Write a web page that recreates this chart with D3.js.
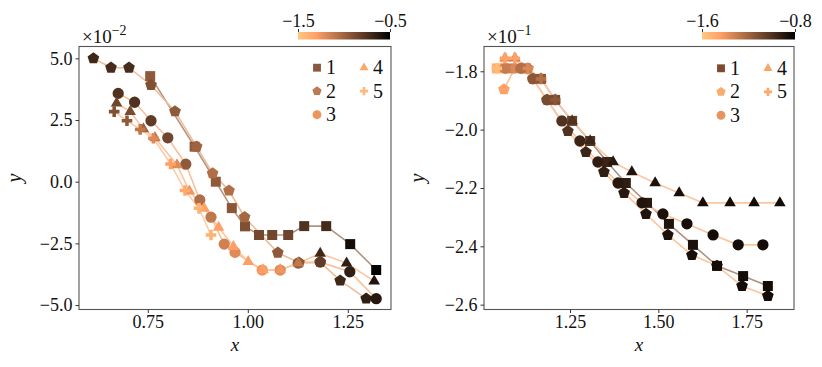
<!DOCTYPE html>
<html><head><meta charset="utf-8">
<script src="https://cdn.jsdelivr.net/npm/d3@7"></script>
<style>
body{margin:0;background:#fff}
text{font-family:"Liberation Serif","DejaVu Serif",serif;fill:#111}
</style>
</head><body>
<svg id="c" width="822" height="367"></svg>
<script>
// ---------------- DATA ----------------
const legendLabels = ["1","2","3","4","5"];
const markerTypes = ["square","pentagon","circle","triangle","plus"];

// Left panel (y in units of 1e-2), each point: [x, y, colour value]
const leftS1 = [[0.756,4.28,-0.95],[0.867,1.42,-0.95],[0.920,0.00,-0.95],[0.960,-1.07,-0.93],[0.993,-1.81,-0.90],[1.028,-2.16,-0.86],[1.061,-2.16,-0.85],[1.101,-2.16,-0.84],[1.141,-1.80,-0.75],[1.196,-1.80,-0.72],[1.256,-2.53,-0.56],[1.321,-3.58,-0.50]];
const leftS2 = [[0.614,5.00,-0.70],[0.658,4.62,-0.72],[0.703,4.62,-0.72],[0.758,3.92,-0.90],[0.818,2.85,-0.95],[0.872,1.42,-1.00],[0.912,0.34,-1.05],[0.953,-0.36,-1.05],[0.992,-1.44,-1.02],[1.075,-2.88,-0.95],[1.128,-3.28,-0.90],[1.181,-3.26,-0.85],[1.231,-4.01,-0.70],[1.296,-4.74,-0.65]];
const leftS3 = [[0.676,3.58,-0.75],[0.717,3.22,-0.75],[0.758,2.47,-0.80],[0.800,1.78,-0.85],[0.845,0.71,-0.95],[0.880,-0.74,-1.05],[0.908,-1.44,-1.10],[0.941,-2.53,-1.15],[0.968,-2.86,-1.20],[1.036,-3.58,-1.25],[1.081,-3.58,-1.20],[1.126,-3.30,-0.95],[1.181,-3.26,-0.80],[1.255,-3.65,-0.65],[1.321,-4.74,-0.62]];
const leftS4 = [[0.672,3.18,-0.85],[0.706,2.84,-0.88],[0.739,2.14,-1.00],[0.768,1.78,-1.10],[0.823,0.68,-1.20],[0.854,-0.38,-1.25],[0.891,-1.08,-1.30],[0.927,-1.85,-1.30],[0.964,-2.63,-1.30],[1.001,-3.24,-1.30],[1.038,-3.58,-1.30],[1.081,-3.58,-1.25],[1.126,-3.30,-1.10],[1.181,-2.91,-0.70],[1.247,-3.30,-0.65],[1.316,-4.03,-0.60]];
const leftS5 = [[0.666,2.84,-0.90],[0.698,2.47,-0.95],[0.731,2.12,-1.10],[0.764,1.76,-1.20],[0.807,0.72,-1.30],[0.843,-0.36,-1.35],[0.878,-1.08,-1.40],[0.908,-2.16,-1.40]];

// Right panel (y in units of 1e-1)
const rightS1 = [[1.043,-1.79,-1.50],[1.083,-1.79,-1.30],[1.125,-1.79,-1.20],[1.168,-1.826,-1.15],[1.208,-1.898,-1.10],[1.256,-1.970,-1.05],[1.307,-2.039,-1.00],[1.355,-2.111,-0.95],[1.408,-2.183,-0.92],[1.468,-2.251,-0.90],[1.530,-2.323,-0.88],[1.598,-2.395,-0.87],[1.666,-2.467,-0.86],[1.740,-2.502,-0.85],[1.810,-2.536,-0.85]];
const rightS2 = [[1.063,-1.862,-1.45],[1.094,-1.79,-1.35],[1.131,-1.79,-1.30],[1.145,-1.826,-1.20],[1.185,-1.898,-1.10],[1.244,-2.005,-1.00],[1.295,-2.077,-0.95],[1.346,-2.145,-0.92],[1.403,-2.217,-0.90],[1.465,-2.289,-0.88],[1.527,-2.361,-0.87],[1.595,-2.430,-0.86],[1.666,-2.467,-0.85],[1.737,-2.536,-0.85],[1.810,-2.570,-0.85]];
const rightS3 = [[1.066,-1.79,-1.30],[1.111,-1.79,-1.25],[1.145,-1.826,-1.15],[1.185,-1.898,-1.10],[1.227,-1.970,-1.00],[1.278,-2.039,-0.95],[1.329,-2.111,-0.92],[1.386,-2.183,-0.90],[1.454,-2.251,-0.88],[1.513,-2.289,-0.87],[1.581,-2.323,-0.86],[1.655,-2.361,-0.85],[1.726,-2.395,-0.85],[1.796,-2.395,-0.85]];
const rightS4 = [[1.066,-1.755,-1.35],[1.094,-1.755,-1.30],[1.114,-1.79,-1.25],[1.168,-1.826,-1.15],[1.208,-1.898,-1.10],[1.256,-1.970,-1.00],[1.307,-2.039,-0.95],[1.372,-2.111,-0.90],[1.425,-2.145,-0.88],[1.491,-2.183,-0.87],[1.559,-2.217,-0.86],[1.626,-2.251,-0.85],[1.703,-2.251,-0.85],[1.771,-2.251,-0.85],[1.844,-2.251,-0.85]];
const rightS5 = [[1.043,-1.79,-1.55],[1.066,-1.755,-1.45],[1.094,-1.755,-1.45],[1.131,-1.79,-1.35],[1.168,-1.826,-1.25],[1.208,-1.898,-1.15]];

const leftXTicks = [0.75, 1.00, 1.25];
const leftYTicks = [5.0, 2.5, 0.0, -2.5, -5.0];
const rightXTicks = [1.25, 1.50, 1.75];
const rightYTicks = [-1.8, -2.0, -2.2, -2.4, -2.6];
const leftColorRange = [-1.5, -0.5];
const rightColorRange = [-1.6, -0.8];
const leftLegendColors = ["#8b5a3c","#bd7a54","#eb9561","#f8aa6c","#fdba7e"];
const rightLegendColors = ["#7a4b2f","#f8ac6e","#e8945f","#f7a66a","#f9aa6c"];
const leftLineColors = ["#b29380","#f0bc98","#f9c19a","#fcc49c","#fdcca6"];
const rightLineColors = ["#b09282","#fbc59f","#fcc39c","#fcc6a0","#fdcba6"];

// ---------------- HELPERS ----------------
function copperR(t){ // reversed copper colormap
  const x = 1 - Math.max(0, Math.min(1, t));
  const r = Math.min(1, 1.25*x), g = 0.7812*x, b = 0.4975*x;
  return d3.rgb(r*255, g*255, b*255).formatHex();
}
const pentagonType = {draw(ctx, size){
  const r = Math.sqrt(size/2.378);
  for(let i=0;i<5;i++){
    const a = -Math.PI/2 + i*2*Math.PI/5;
    const px = r*Math.cos(a), py = r*Math.sin(a);
    if(i===0) ctx.moveTo(px,py); else ctx.lineTo(px,py);
  }
  ctx.closePath();
}};
function symbolPath(type, scale){
  const s = scale || 1;
  if(type==="square") return d3.symbol(d3.symbolSquare, 100*s)();
  if(type==="pentagon") return d3.symbol(pentagonType, 90*s)();
  if(type==="circle") return d3.symbol(d3.symbolCircle, 100*s)();
  if(type==="triangle") return d3.symbol(d3.symbolTriangle, 58*s)();
  return d3.symbol(d3.symbolCross, 62*s)();
}
const fmtMinus = s => s.replace("-", "\u2212");

const svg = d3.select("#c");

function panel(cfg){
  const g = svg.append("g");
  const x = d3.scaleLinear().domain(cfg.xDomain).range([cfg.x0, cfg.x1]);
  const y = d3.scaleLinear().domain(cfg.yDomain).range([cfg.y1, cfg.y0]);
  const cnorm = d3.scaleLinear().domain(cfg.cRange).range([0,1]);

  // lines
  cfg.series.forEach((s,i)=>{
    g.append("path").datum(s)
      .attr("fill","none").attr("stroke",cfg.lineColors[i]).attr("stroke-width",1.6)
      .attr("d", d3.line().x(d=>x(d[0])).y(d=>y(d[1])));
  });
  // markers
  cfg.series.forEach((s,i)=>{
    g.selectAll(null).data(s).enter().append("path")
      .attr("d", symbolPath(markerTypes[i]))
      .attr("transform", d=>`translate(${x(d[0])},${y(d[1])})`)
      .attr("fill", d=>copperR(cnorm(d[2])));
  });

  // frame
  g.append("rect").attr("x",cfg.x0).attr("y",cfg.y0)
    .attr("width",cfg.x1-cfg.x0).attr("height",cfg.y1-cfg.y0)
    .attr("fill","none").attr("stroke","#555").attr("stroke-width",1.1);

  // axes
  const ax = g.append("g").attr("transform",`translate(0,${cfg.y1})`)
    .call(d3.axisBottom(x).tickValues(cfg.xTicks).tickFormat(d3.format(".2f")).tickSize(3.5).tickPadding(3));
  const ay = g.append("g").attr("transform",`translate(${cfg.x0},0)`)
    .call(d3.axisLeft(y).tickValues(cfg.yTicks).tickFormat(d=>fmtMinus(d3.format(".1f")(d))).tickSize(3.5).tickPadding(3));
  [ax,ay].forEach(a=>{
    a.select(".domain").remove();
    a.selectAll("line").attr("stroke","#333");
    a.selectAll("text").style("font-size","18px").attr("fill","#111");
  });
  ax.selectAll("text").attr("dy","0.68em");

  // axis labels
  g.append("text").attr("x",(cfg.x0+cfg.x1)/2).attr("y",351).attr("text-anchor","middle")
    .style("font-size","19px").style("font-style","italic").text("x");
  g.append("text").attr("transform",`translate(${cfg.x0-cfg.ylabOff},${(cfg.y0+cfg.y1)/2}) rotate(-90)`)
    .attr("text-anchor","middle").style("font-size","20px").style("font-style","italic").text("y");

  // offset text
  const ot = g.append("text").attr("x",cfg.x0+3).attr("y",cfg.y0-4).style("font-size","19px");
  ot.append("tspan").text("\u00d710");
  ot.append("tspan").attr("dy",-8).style("font-size","14px").text(fmtMinus(cfg.exp));

  // legend
  const lx1 = cfg.legX, lx2 = cfg.legX + 47, ly = cfg.legY, dy = 23.5;
  legendLabels.forEach((lab,i)=>{
    const cx = i<3 ? lx1 : lx2, cy = ly + (i%3)*dy;
    g.append("path").attr("d", symbolPath(markerTypes[i], 0.62))
      .attr("transform",`translate(${cx},${cy})`).attr("fill", cfg.legendColors[i]);
    g.append("text").attr("x",cx+9).attr("y",cy+6.5).style("font-size","20px").text(lab);
  });

  // colorbar
  const gid = "grad"+cfg.id;
  const grad = svg.append("defs").append("linearGradient").attr("id",gid);
  d3.range(0,1.0001,0.05).forEach(t=>grad.append("stop").attr("offset",t).attr("stop-color",copperR(t)));
  const cb = d3.scaleLinear().domain(cfg.cRange).range([cfg.cb0, cfg.cb1]);
  g.append("rect").attr("x",cfg.cb0).attr("y",32).attr("width",cfg.cb1-cfg.cb0).attr("height",7.5)
    .attr("fill",`url(#${gid})`);
  const cax = g.append("g").attr("transform","translate(0,32)")
    .call(d3.axisTop(cb).tickValues(cfg.cRange).tickFormat(d=>fmtMinus(d3.format(".1f")(d))).tickSize(3).tickPadding(2));
  cax.select(".domain").remove();
  cax.selectAll("line").attr("stroke","#333");
  cax.selectAll("text").style("font-size","18px").attr("fill","#111");
}

panel({id:"L", x0:79, x1:391, y0:46.5, y1:309.5,
  xDomain:[0.578,1.358], yDomain:[-5.18,5.48],
  series:[leftS1,leftS2,leftS3,leftS4,leftS5],
  xTicks:leftXTicks, yTicks:leftYTicks, cRange:leftColorRange,
  lineColors:leftLineColors, legendColors:leftLegendColors,
  legX:317, legY:67.7, cb0:298, cb1:390, exp:"-2", ylabOff:58});

panel({id:"R", x0:484, x1:794, y0:46.5, y1:309.5,
  xDomain:[1.0066,1.884], yDomain:[-2.6166,-1.715],
  series:[rightS1,rightS2,rightS3,rightS4,rightS5],
  xTicks:rightXTicks, yTicks:rightYTicks, cRange:rightColorRange,
  lineColors:rightLineColors, legendColors:rightLegendColors,
  legX:721, legY:68.3, cb0:702, cb1:795, exp:"-1", ylabOff:60});
</script>
</body></html>
